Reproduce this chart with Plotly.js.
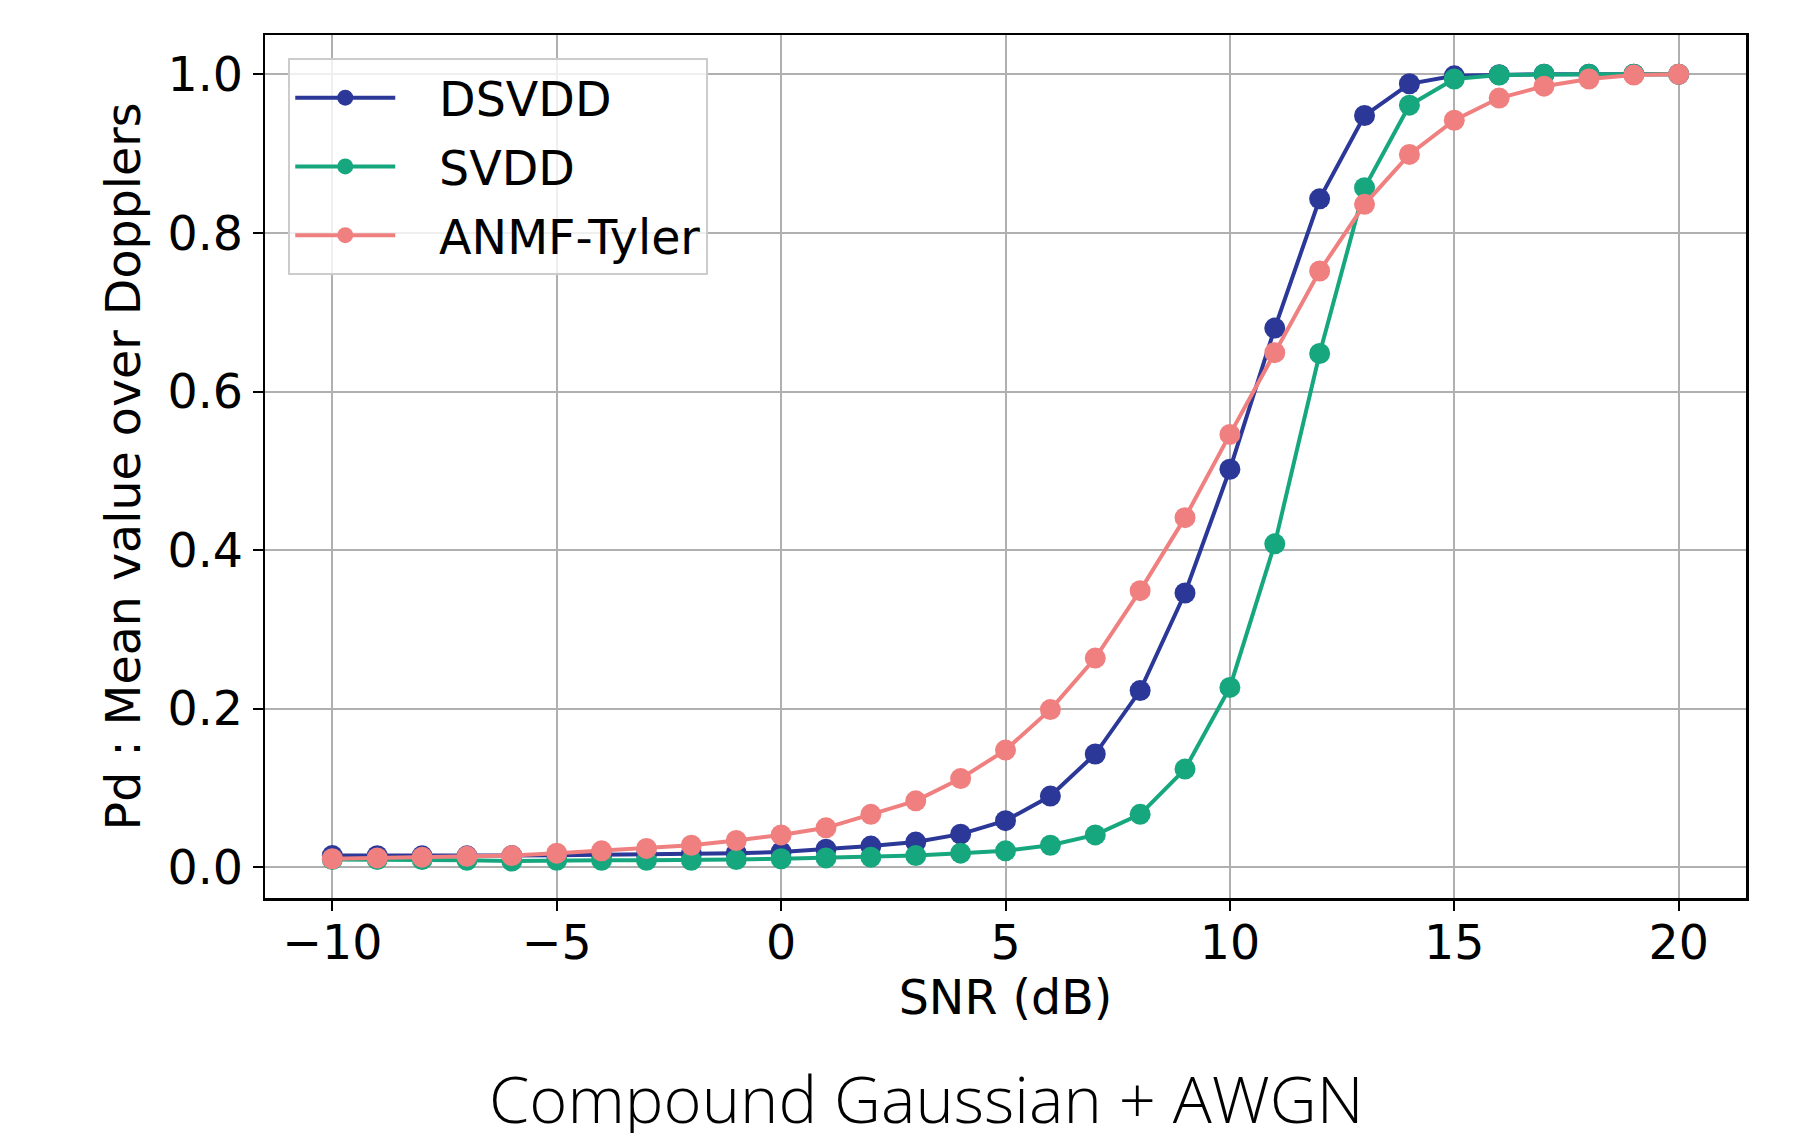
<!DOCTYPE html>
<html>
<head>
<meta charset="utf-8">
<script src="https://cdn.plot.ly/plotly-3.0.1.min.js"></script>
<style>html,body{margin:0;padding:0;background:#fff}</style>
</head>
<body>
<div id="chart" style="width:1805px;height:1133px"></div>
<script>
const snr = [-10,-9,-8,-7,-6,-5,-4,-3,-2,-1,0,1,2,3,4,5,6,7,8,9,10,11,12,13,14,15,16,17,18,19,20];
const dsvdd = [0.015,0.0148,0.0147,0.0147,0.015,0.0155,0.016,0.0165,0.017,0.018,0.0195,0.023,0.027,0.032,0.042,0.059,0.090,0.143,0.223,0.346,0.502,0.680,0.843,0.948,0.988,0.998,0.9995,1.0,1.0,1.0,1.0];
const svdd = [0.010,0.010,0.010,0.009,0.008,0.009,0.009,0.009,0.009,0.010,0.011,0.012,0.013,0.015,0.018,0.021,0.028,0.041,0.067,0.124,0.227,0.408,0.648,0.857,0.961,0.994,0.999,1.0,1.0,1.0,1.0];
const anmf = [0.011,0.012,0.013,0.014,0.015,0.018,0.021,0.024,0.028,0.034,0.041,0.050,0.067,0.084,0.112,0.148,0.199,0.264,0.349,0.441,0.546,0.649,0.752,0.836,0.899,0.942,0.970,0.985,0.994,0.999,1.0];
const seriesNames = ["DSVDD","SVDD","ANMF-Tyler"];
const seriesColors = ["#2b3898","#17a77e","#f08080"];
const xTicks = [-10,-5,0,5,10,15,20];
const yTicks = [0.0,0.2,0.4,0.6,0.8,1.0];
const titleText = "Compound Gaussian + AWGN";
const xLabel = "SNR (dB)";
const yLabel = "Pd : Mean value over Dopplers";

const ys = [dsvdd, svdd, anmf];
const traces = ys.map((y,i)=>({
  x: snr, y: y, type: "scatter", mode: "lines+markers",
  name: "\u2002\u00a0" + seriesNames[i], legendgroup: "g"+i,
  line: {color: seriesColors[i], width: 4},
  marker: {color: seriesColors[i], size: 21}
}));

const font = "DejaVu Sans, sans-serif";
const fs = 47.5;
const layout = {
  width: 1805, height: 1133,
  margin: {l: 265, r: 59, t: 34.5, b: 235},
  paper_bgcolor: "#fff", plot_bgcolor: "#fff",
  font: {family: font, size: fs, color: "#000"},
  showlegend: true,
  legend: {
    x: 0.0157, y: 0.973, xanchor: "left", yanchor: "top",
    bgcolor: "rgba(255,255,255,0.8)", bordercolor: "#cccccc", borderwidth: 2,
    font: {family: font, size: fs, color: "#000"},
    itemwidth: 100, tracegroupgap: 4
  },
  xaxis: {
    range: [-11.5, 21.5], tickvals: xTicks, ticktext: xTicks.map(v=>v<0?"\u2212"+Math.abs(v):String(v)),
    showgrid: true, gridcolor: "#b0b0b0", gridwidth: 2, zeroline: false,
    showline: true, linecolor: "#000", linewidth: 2.5, mirror: true,
    ticks: "outside", ticklen: 10, tickwidth: 2, tickcolor: "#000",
    tickfont: {family: font, size: fs}, ticklabelstandoff: -9,
    title: {text: xLabel, font: {family: font, size: fs}, standoff: 6},
    automargin: false
  },
  yaxis: {
    range: [-0.0385, 1.0495], tickvals: yTicks, ticktext: yTicks.map(v=>v.toFixed(1)),
    showgrid: true, gridcolor: "#b0b0b0", gridwidth: 2, zeroline: false,
    showline: true, linecolor: "#000", linewidth: 2.5, mirror: true,
    ticks: "outside", ticklen: 10, tickwidth: 2, tickcolor: "#000",
    tickfont: {family: font, size: fs},
    title: {text: yLabel, font: {family: font, size: fs}, standoff: 12},
    automargin: false
  },
  annotations: [{
    text: titleText, xref: "paper", yref: "paper",
    x: (927-265)/1481.6, y: -(1098-898)/863.5, xanchor: "center", yanchor: "middle",
    showarrow: false, font: {family: "Open Sans, Lato, sans-serif", size: 65, weight: 300, color: "#000"}
  }]
};
Plotly.newPlot("chart", traces, layout, {staticPlot: true});
</script>
</body>
</html>
